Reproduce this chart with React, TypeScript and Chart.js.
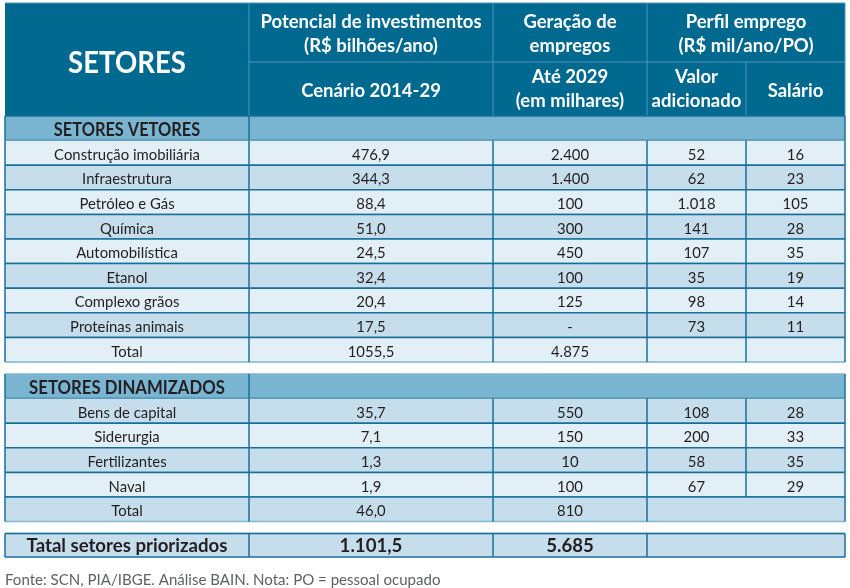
import React, { useEffect, useRef } from "react";
import { Chart, registerables } from "chart.js";

Chart.register(...registerables);

// ---------- data ----------
const vetoresSetores = [
  "Construção imobiliária",
  "Infraestrutura",
  "Petróleo e Gás",
  "Química",
  "Automobilística",
  "Etanol",
  "Complexo grãos",
  "Proteínas animais",
];
const vetoresInvest = [476.9, 344.3, 88.4, 51.0, 24.5, 32.4, 20.4, 17.5];
const vetoresEmpregos: (number | null)[] = [2400, 1400, 100, 300, 450, 100, 125, null];
const vetoresValorAdic = [52, 62, 1018, 141, 107, 35, 98, 73];
const vetoresSalario = [16, 23, 105, 28, 35, 19, 14, 11];
const vetoresTotalInvest = 1055.5;
const vetoresTotalEmpregos = 4875;

const dinamSetores = ["Bens de capital", "Siderurgia", "Fertilizantes", "Naval"];
const dinamInvest = [35.7, 7.1, 1.3, 1.9];
const dinamEmpregos = [550, 150, 10, 100];
const dinamValorAdic = [108, 200, 58, 67];
const dinamSalario = [28, 33, 35, 29];
const dinamTotalInvest = 46.0;
const dinamTotalEmpregos = 810;

const priorizadosInvest = 1101.5;
const priorizadosEmpregos = 5685;

const headerTitle = "SETORES";
const headerGroups = [
  ["Potencial de investimentos", "(R$ bilhões/ano)"],
  ["Geração de", "empregos"],
  ["Perfil emprego", "(R$ mil/ano/PO)"],
];
const headerSubs = [["Cenário 2014-29"], ["Até 2029", "(em milhares)"], ["Valor", "adicionado"], ["Salário"]];
const sectionVetores = "SETORES VETORES";
const sectionDinam = "SETORES DINAMIZADOS";
const totalLabel = "Total";
const grandTotalLabel = "Tatal setores priorizados";
const footnote = "Fonte: SCN, PIA/IBGE. Análise BAIN. Nota: PO = pessoal ocupado";

// ---------- formatting ----------
function fmt(v: number | null, decimals: number, group = true): string {
  if (v === null) return "-";
  const s = v.toFixed(decimals);
  let [int, dec] = s.split(".");
  if (group) int = int.replace(/\B(?=(\d{3})+(?!\d))/g, ".");
  return dec !== undefined ? int + "," + dec : int;
}

// ---------- layout / style ----------
const COLS = [5, 249, 493, 647, 746, 845];
const TOP = 3;
const HEADER_H = 113;
const HEADER_SPLIT = 59;
const ROW_H = 24.6;
const GAP = 12;
const GRAND_H = 23.5;

const C_HEADER = "#00698f";
const C_HEADER_LINE = "#4f97ba";
const C_SECTION = "#79b4d1";
const C_MID = "#c6deec";
const C_LIGHT = "#e3eff6";
const C_GRID = "#17709b";
const C_SOFT = "#7fb6d2";
const C_TEXT = "#231f20";
const C_NOTE = "#606164";
const FONT = "Lato, 'Open Sans', sans-serif";

type Row = {
  kind: "header" | "section" | "data" | "grand";
  top: number;
  h: number;
  cells?: string[];
  fill?: string;
  merge45?: boolean;
  bold?: boolean;
  label?: string;
};

function buildRows(): Row[] {
  const rows: Row[] = [];
  let y = TOP;
  rows.push({ kind: "header", top: y, h: HEADER_H });
  y += HEADER_H;
  rows.push({ kind: "section", top: y, h: ROW_H, label: sectionVetores });
  y += ROW_H;
  vetoresSetores.forEach((s, i) => {
    rows.push({
      kind: "data",
      top: y,
      h: ROW_H,
      fill: i % 2 === 0 ? C_LIGHT : C_MID,
      cells: [s, fmt(vetoresInvest[i], 1), fmt(vetoresEmpregos[i], 0), fmt(vetoresValorAdic[i], 0), fmt(vetoresSalario[i], 0)],
    });
    y += ROW_H;
  });
  rows.push({
    kind: "data",
    top: y,
    h: ROW_H,
    fill: vetoresSetores.length % 2 === 0 ? C_LIGHT : C_MID,
    cells: [totalLabel, fmt(vetoresTotalInvest, 1, false), fmt(vetoresTotalEmpregos, 0), "", ""],
  });
  y += ROW_H + GAP;
  rows.push({ kind: "section", top: y, h: ROW_H, label: sectionDinam });
  y += ROW_H;
  dinamSetores.forEach((s, i) => {
    rows.push({
      kind: "data",
      top: y,
      h: ROW_H,
      fill: i % 2 === 0 ? C_MID : C_LIGHT,
      cells: [s, fmt(dinamInvest[i], 1), fmt(dinamEmpregos[i], 0), fmt(dinamValorAdic[i], 0), fmt(dinamSalario[i], 0)],
    });
    y += ROW_H;
  });
  rows.push({
    kind: "data",
    top: y,
    h: ROW_H,
    fill: dinamSetores.length % 2 === 0 ? C_MID : C_LIGHT,
    merge45: true,
    cells: [totalLabel, fmt(dinamTotalInvest, 1), fmt(dinamTotalEmpregos, 0), "", ""],
  });
  y += ROW_H + GAP;
  rows.push({
    kind: "grand",
    top: y,
    h: GRAND_H,
    fill: C_MID,
    merge45: true,
    bold: true,
    cells: [grandTotalLabel, fmt(priorizadosInvest, 1), fmt(priorizadosEmpregos, 0), "", ""],
  });
  return rows;
}

function text(
  ctx: CanvasRenderingContext2D,
  s: string,
  x: number,
  y: number,
  font: string,
  color: string,
  align: CanvasTextAlign,
  sx: number
) {
  ctx.save();
  ctx.translate(x, y);
  ctx.scale(sx, 1);
  ctx.font = font;
  ctx.fillStyle = color;
  ctx.textAlign = align;
  ctx.textBaseline = "alphabetic";
  ctx.fillText(s, 0, 0);
  ctx.restore();
}

const tablePlugin = {
  id: "tablePlugin",
  afterDraw(chart: any) {
    const ctx: CanvasRenderingContext2D = chart.ctx;
    const xs = chart.scales.x;
    const ys = chart.scales.y;
    const X = (v: number) => xs.getPixelForValue(v);
    const Y = (v: number) => ys.getPixelForValue(v);
    const cx = (i: number) => (X(COLS[i]) + X(COLS[i + 1])) / 2;
    const line = (x1: number, y1: number, x2: number, y2: number, c: string, w: number) => {
      ctx.save();
      ctx.strokeStyle = c;
      ctx.lineWidth = w;
      ctx.beginPath();
      ctx.moveTo(x1, y1);
      ctx.lineTo(x2, y2);
      ctx.stroke();
      ctx.restore();
    };
    const L = X(COLS[0]);
    const R = X(COLS[5]);
    const rows = buildRows();

    rows.forEach((r, idx) => {
      const t = Y(r.top);
      const b = Y(r.top + r.h);
      if (r.kind === "header") {
        ctx.fillStyle = C_HEADER;
        ctx.fillRect(L, t, R - L, b - t);
        const sp = Y(r.top + HEADER_SPLIT);
        line(L, t, R, t, C_HEADER_LINE, 1);
        [1, 2, 3].forEach((i) => line(X(COLS[i]), t, X(COLS[i]), b, C_HEADER_LINE, 1));
        line(X(COLS[1]), sp, R, sp, C_HEADER_LINE, 1);
        line(X(COLS[4]), sp, X(COLS[4]), b, C_HEADER_LINE, 1);
        line(R, t, R, b, C_HEADER_LINE, 1);
        text(ctx, headerTitle, cx(0), Y(r.top + 70), `bold 31px ${FONT}`, "#ffffff", "center", 0.89);
        const hf = `bold 18.5px ${FONT}`;
        const groupCenters = [cx(1), cx(2), (X(COLS[3]) + X(COLS[5])) / 2];
        headerGroups.forEach((g, gi) => {
          g.forEach((s, li) => text(ctx, s, groupCenters[gi], Y(r.top + 25 + li * 24), hf, "#ffffff", "center", 1.0));
        });
        headerSubs.forEach((g, gi) => {
          const base = g.length === 1 ? 94 : 80;
          g.forEach((s, li) => text(ctx, s, cx(gi + 1), Y(r.top + base + li * 24), hf, "#ffffff", "center", 1.0));
        });
        return;
      }
      if (r.kind === "section") {
        ctx.fillStyle = C_SECTION;
        ctx.fillRect(L, t, R - L, b - t);
        const prev = rows[idx - 1];
        line(L, t, R, t, prev && prev.kind === "header" ? C_GRID : C_SOFT, 1.5);
        line(L, b, R, b, C_GRID, 1.5);
        line(L, t, L, b, C_GRID, 1.5);
        line(R, t, R, b, C_GRID, 1.5);
        line(X(COLS[1]), t, X(COLS[1]), b, C_GRID, 1.5);
        const sx = r.label === sectionDinam ? 0.93 : 0.91;
        text(ctx, r.label!, cx(0), Y(r.top + 19.5), `bold 18px ${FONT}`, C_TEXT, "center", sx);
        return;
      }
      // data & grand rows
      ctx.fillStyle = r.fill!;
      ctx.fillRect(L, t, R - L, b - t);
      const next = rows[idx + 1];
      const prev = rows[idx - 1];
      const topSoft = r.kind === "grand";
      const botSoft = !next || next.kind !== "data";
      if (topSoft) line(L, t, R, t, C_SOFT, 1.5);
      line(L, b, R, b, r.kind === "grand" ? C_GRID : botSoft ? C_SOFT : C_GRID, 1.5);
      if (prev && prev.kind === "data") line(L, t, R, t, C_GRID, 1.5);
      [0, 1, 2, 3, 4, 5].forEach((i) => {
        if (i === 4 && r.merge45) return;
        line(X(COLS[i]), t, X(COLS[i]), b, C_GRID, 1.5);
      });
      const font = r.bold ? `bold 19px ${FONT}` : `16px ${FONT}`;
      const sx = r.bold ? 0.98 : 0.93;
      const base = r.kind === "grand" ? 18.5 : 19.2;
      r.cells!.forEach((s, ci) => {
        if (!s) return;
        text(ctx, s, cx(ci), Y(r.top + base), font, C_TEXT, "center", sx);
      });
    });

    text(ctx, footnote, L, Y(585), `16px ${FONT}`, C_NOTE, "left", 0.94);
  },
};

export default function App() {
  const ref = useRef<HTMLCanvasElement | null>(null);
  useEffect(() => {
    if (!ref.current) return;
    const chart = new Chart(ref.current, {
      type: "scatter",
      data: { datasets: [] },
      options: {
        responsive: false,
        animation: false,
        events: [],
        layout: { padding: 0 },
        plugins: { legend: { display: false }, tooltip: { enabled: false } },
        scales: {
          x: { type: "linear", min: 0, max: 850, display: false },
          y: { type: "linear", min: 0, max: 588, reverse: true, display: false },
        },
      },
      plugins: [tablePlugin],
    });
    return () => chart.destroy();
  }, []);
  return (
    <div style={{ position: "absolute", left: 0, top: 0, width: 850, height: 588, background: "#ffffff" }}>
      <canvas ref={ref} width={850} height={588} style={{ display: "block" }} />
    </div>
  );
}
